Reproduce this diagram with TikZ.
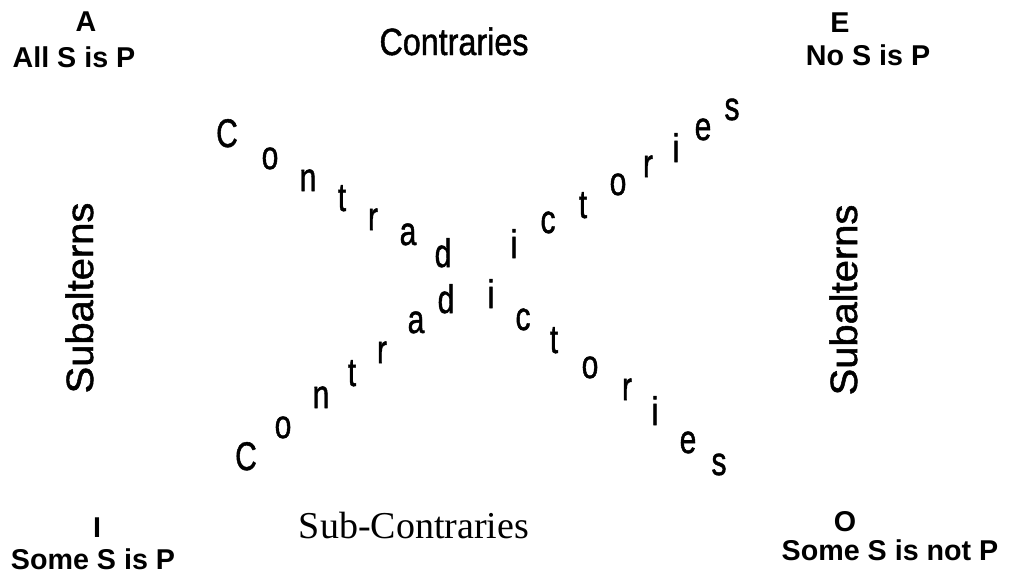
\documentclass[tikz,border=0pt]{standalone}
\usepackage{fontspec}
\setmainfont{Liberation Sans}
\newfontfamily\subserif{Liberation Serif}
\newfontfamily\heavysans[FakeBold=1.3]{Liberation Sans}
\usepackage{graphicx}
\usetikzlibrary{positioning}
\newcommand{\slim}[2][0.75]{\scalebox{#1}[1]{#2}}
\tikzset{
  corner/.style={font=\fontsize{21.5}{24}\selectfont\bfseries, inner sep=0pt, anchor=base},
  rel/.style={font=\heavysans\fontsize{28.5}{32}\selectfont, inner sep=0pt, anchor=base},
  side/.style={rel, rotate=90},
  diag/.style={font=\heavysans\fontsize{30}{34}\selectfont, inner sep=0pt, anchor=base}
}

\begin{document}
\begin{tikzpicture}[x=0.75pt, y=-0.75pt]
  \useasboundingbox (0,0) rectangle (1009,575);

  % the four corners
  \node[corner] (A) at (86,31) {A};
  \node[corner] (Aall) at (74,67) {All S is P};
  \node[corner] (E) at (840,32) {E};
  \node[corner] (Eno) at (868,65) {No S is P};
  \node[corner] (I) at (97,537) {I};
  \node[corner] (Isome) at (93,569) {Some S is P};
  \node[corner] (O) at (845,531) {O};
  \node[corner] (Onot) at (890,560) {Some S is not P};

  % relations
  \node[rel] (contr) at (454,55) {\slim[0.85]{Contraries}};
  \node[rel, font=\subserif\fontsize{28.5}{32}\selectfont] (subc) at (414,538) {Sub-Contraries};
  \node[side] (subl) at (93,298) {\slim[1.05]{Subalterns}};
  \node[side] (subr) at (857,300) {\slim[1.05]{Subalterns}};

  % contradictories, upper word
  \foreach \ch/\px/\py [count=\k] in {C/227/147, o/270/169, n/308/191, t/342/211, r/373/230,
      a/408/245, d/443/267, i/514/258, c/548/233, t/583/218, o/618/195, r/648/177,
      i/676/162, e/703/140, s/732/120}
    \node[diag] (up\k) at (\px,\py) {\slim{\ch}};

  % contradictories, lower word
  \foreach \ch/\px/\py [count=\k] in {C/246/470, o/283/438, n/321/408, t/352/386, r/382/363,
      a/416/333, d/446/313, i/491/308, c/523/330, t/554/353, o/590/378, r/627/400,
      i/655/425, e/688/453, s/719/475}
    \node[diag] (lo\k) at (\px,\py) {\slim{\ch}};
\end{tikzpicture}
\end{document}
